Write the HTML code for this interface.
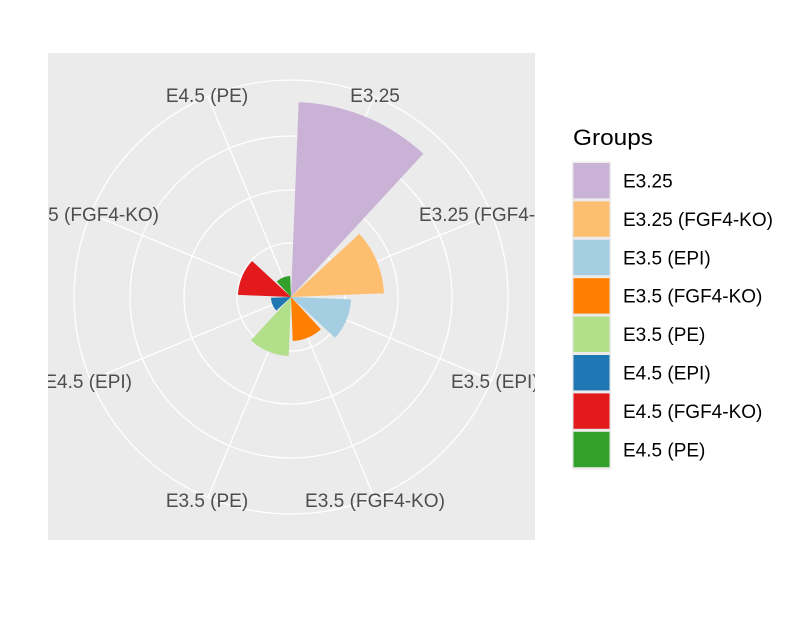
<!DOCTYPE html>
<html><head><meta charset="utf-8"><style>
html,body{margin:0;padding:0;background:#fff;}
svg{display:block;font-family:"Liberation Sans",Arial,sans-serif;}
</style></head><body>
<svg id="s" width="800" height="640" viewBox="0 0 800 640" xmlns="http://www.w3.org/2000/svg">
<defs><clipPath id="cp"><rect x="48" y="53" width="487" height="487"/></clipPath></defs>
<rect x="48" y="53" width="487" height="487" fill="#EBEBEB"/>
<g id="grid" stroke="#fff" stroke-width="1.3" fill="none" clip-path="url(#cp)"></g>
<g id="bars"></g>
<g clip-path="url(#cp)" fill="#4D4D4D" font-size="19">
<text x="375" y="102" text-anchor="middle">E3.25</text>
<text x="419" y="221">E3.25 (FGF4-KO)</text>
<text x="451" y="388">E3.5 (EPI)</text>
<text x="375" y="507" text-anchor="middle" textLength="140" lengthAdjust="spacingAndGlyphs">E3.5 (FGF4-KO)</text>
<text x="207" y="507" text-anchor="middle">E3.5 (PE)</text>
<text x="132" y="388" text-anchor="end">E4.5 (EPI)</text>
<text x="159" y="221" text-anchor="end">E4.5 (FGF4-KO)</text>
<text x="207" y="102" text-anchor="middle">E4.5 (PE)</text>
</g>
<text x="573" y="145" font-size="22" fill="#000" textLength="80" lengthAdjust="spacingAndGlyphs">Groups</text>
<g id="leg"></g>
</svg>
<script>
var cx=291,cy=297,ns="http://www.w3.org/2000/svg";
function el(p,t,a){var e=document.createElementNS(ns,t);for(var k in a)e.setAttribute(k,a[k]);p.appendChild(e);return e;}
function pt(r,d){var a=d*Math.PI/180;return [cx+r*Math.sin(a),cy-r*Math.cos(a)];}
var g=document.getElementById('grid');
[54,107,161,217].forEach(function(r){el(g,'circle',{cx:cx,cy:cy,r:r});});
for(var k=0;k<8;k++){var p=pt(216,22.5+45*k);el(g,'line',{x1:cx,y1:cy,x2:p[0],y2:p[1]});}
var cols=['#CAB2D6','#FDBF6F','#A6CEE3','#FF7F00','#B2DF8A','#1F78B4','#E31A1C','#33A02C'];
var rs=[195,93,60,44,59,20,53,21];
var names=['E3.25','E3.25 (FGF4-KO)','E3.5 (EPI)','E3.5 (FGF4-KO)','E3.5 (PE)','E4.5 (EPI)','E4.5 (FGF4-KO)','E4.5 (PE)'];
var b=document.getElementById('bars');
for(var i=0;i<8;i++){
 var a1=45*i+2.25,a2=45*i+42.75,r=rs[i];
 var d='M'+cx+' '+cy;
 for(var t=0;t<=30;t++){var p=pt(r,a1+(a2-a1)*t/30);d+=' L'+p[0].toFixed(2)+' '+p[1].toFixed(2);}
 el(b,'path',{d:d+'Z',fill:cols[i]});
}
var lg=document.getElementById('leg');
el(lg,'rect',{x:572,y:161.5,width:39,height:308,fill:'#EBEBEB'});
for(var i=0;i<8;i++){
 var y=163+i*38.4;
 el(lg,'rect',{x:573.5,y:y,width:36,height:35.4,fill:cols[i]});
 var tx=el(lg,'text',{x:623,y:y+24.5,'font-size':'19',fill:'#000'});tx.textContent=names[i];
}
</script>
</body></html>
